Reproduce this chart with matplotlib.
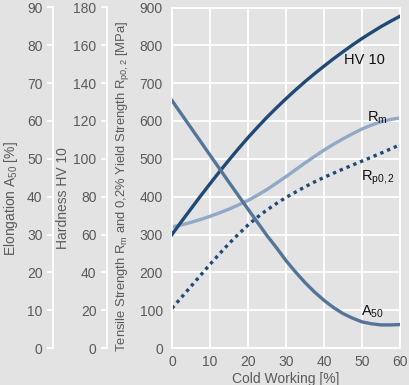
import numpy as np
import matplotlib
matplotlib.use('Agg')
import matplotlib.pyplot as plt

plt.rcParams['font.family'] = ['Liberation Sans', 'DejaVu Sans']
plt.rcParams['mathtext.default'] = 'regular'

# data (every 2.5 % cold working)
cold_work = [0, 2.5, 5, 7.5, 10, 12.5, 15, 17.5, 20, 22.5, 25, 27.5, 30,
             32.5, 35, 37.5, 40, 42.5, 45, 47.5, 50, 52.5, 55, 57.5, 60]
hv10 = [60, 66.9, 73.6, 80.3, 86.8, 93.2, 99.4, 105.4, 111.2, 116.7, 122.0, 127.0, 131.8,
        136.4, 140.8, 145.0, 149.0, 152.9, 156.6, 160.2, 163.6, 166.8, 169.9, 172.7, 175.4]
rm = [320, 325.5, 332, 339.7, 348, 357.3, 367, 378.2, 390, 404, 419, 435.8, 453,
      471, 489, 506.3, 523, 538.5, 553, 566.3, 579, 589.3, 598, 604, 608]
rp02 = [105, 134, 163, 192, 221, 249, 276, 301, 325, 346, 365, 382, 398,
        412, 426, 439, 451, 462, 473, 483.5, 494, 504.5, 515, 526, 537]
a50 = [65.4, 61.8, 58.2, 54.6, 51.0, 47.4, 43.8, 40.25, 36.7, 33.2, 29.7, 26.5, 23.1,
       20.1, 17.3, 14.8, 12.6, 10.7, 9.1, 7.9, 6.9, 6.4, 6.1, 6.1, 6.2]

x_ticks = [0, 10, 20, 30, 40, 50, 60]
mpa_ticks = [0, 100, 200, 300, 400, 500, 600, 700, 800, 900]
hv_ticks = [0, 20, 40, 60, 80, 100, 120, 140, 160, 180]
el_ticks = [0, 10, 20, 30, 40, 50, 60, 70, 80, 90]

bg = '#e3e3e3'
txt = '#5a5a5a'
c_hv = '#1f4a78'
c_rm = '#91a9c7'
c_rp = '#1f4a78'
c_a = '#557499'

fig = plt.figure(figsize=(4.09, 3.85), dpi=100, facecolor=bg)
ax = fig.add_axes([172/409, 1 - 348/385, 228/409, 340.5/385])
ax.set_facecolor(bg)
ax.set_xlim(0, 60)
ax.set_ylim(0, 900)
ax.set_xticks(x_ticks)
ax.set_yticks(mpa_ticks)
ax.grid(True, color='white', lw=1.3)
ax.set_axisbelow(True)
for s in ax.spines.values():
    s.set_color('white')
    s.set_linewidth(1.3)
ax.tick_params(length=0, labelsize=10, labelcolor=txt)
ax.tick_params(axis='y', pad=6.5)
ax.tick_params(axis='x', pad=5)
ax.set_xlabel('Cold Working [%]', fontsize=10, color=txt, labelpad=2)
ax.set_ylabel('Tensile Strength $R_m$ and 0,2% Yield Strength $R_{p0,2}$ [MPa]',
              fontsize=9.4, color=txt)
ax.yaxis.set_label_coords(-0.18, 0.475)

ax.plot(cold_work, rm, color=c_rm, lw=2.4)
ax.plot(cold_work, rp02, color=c_rp, lw=2.4, linestyle=(0, (1, 1.2)))

# extra left axes for hardness and elongation
ax_h = ax.twinx()
ax_e = ax.twinx()
for a, pos, lim, ticks, lab, lx in [
        (ax_h, -0.285, 180, hv_ticks, 'Hardness HV 10', -0.447),
        (ax_e, -0.522, 90, el_ticks, 'Elongation $A_{50}$ [%]', -0.667)]:
    a.set_ylim(0, lim)
    a.set_yticks(ticks)
    a.yaxis.set_ticks_position('left')
    a.yaxis.set_label_position('left')
    for k in ['top', 'right', 'bottom']:
        a.spines[k].set_visible(False)
    a.spines['left'].set_position(('axes', pos))
    a.spines['left'].set_color('white')
    a.spines['left'].set_linewidth(1.3)
    a.tick_params(axis='y', length=4, width=1.3, color='white', pad=3.5,
                  labelsize=10, labelcolor=txt)
    a.set_ylabel(lab, fontsize=10, color=txt)
    a.yaxis.set_label_coords(lx, 0.44)

ax_h.plot(cold_work, hv10, color=c_hv, lw=2.4)
ax_e.plot(cold_work, a50, color=c_a, lw=2.4)

lab_kw = dict(fontsize=10.5, color='#111111', va='center', ha='left')
ax.text(45.3, 760, 'HV 10', **lab_kw)
ax.text(51.3, 608, '$R_m$', **lab_kw)
ax.text(49.8, 450, '$R_{p0,2}$', **lab_kw)
ax.text(49.8, 95, '$A_{50}$', **lab_kw)

fig.savefig('out.png', dpi=100, facecolor=bg)
